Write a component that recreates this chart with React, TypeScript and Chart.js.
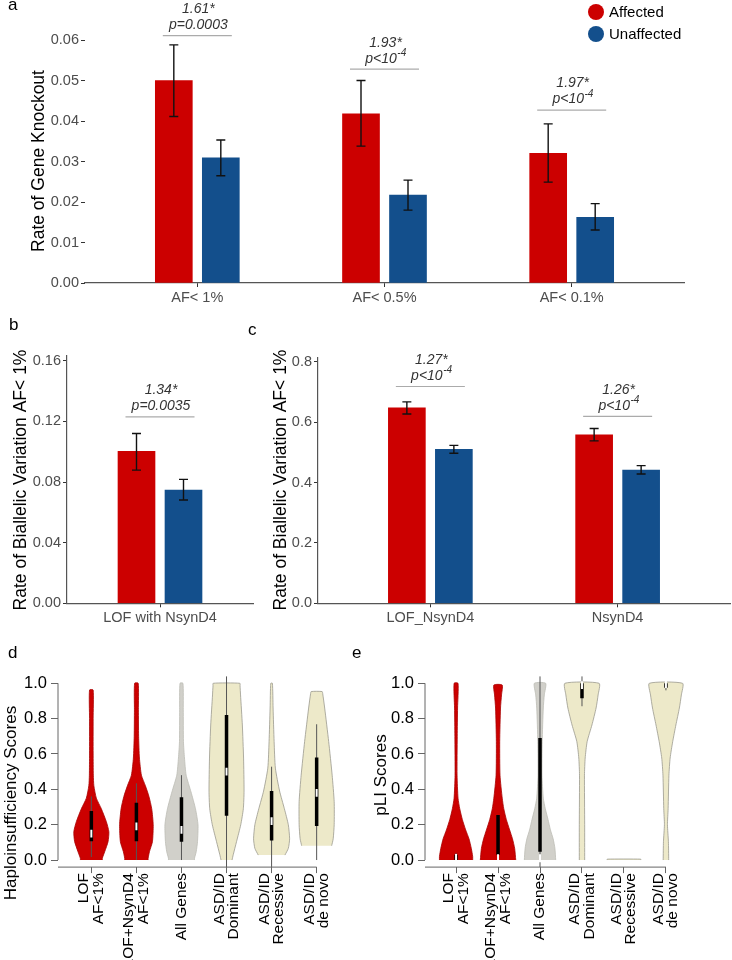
import React, { useEffect, useRef } from "react";
import { Chart, registerables } from "chart.js";

Chart.register(...registerables);

const FONT = '"Liberation Sans", Arial, Helvetica, sans-serif';
Chart.defaults.font.family = FONT;

const RED = "#CC0000";
const BLUE = "#134F8C";
const GREY = "#D1D0CA";
const CREAM = "#EDE9C9";

// ---------- Panel a ----------
const aCategories = ["AF< 1%", "AF< 0.5%", "AF< 0.1%"];
const aAffected = [0.05, 0.0418, 0.032];
const aAffectedLow = [0.0411, 0.0338, 0.0249];
const aAffectedHigh = [0.0588, 0.05, 0.0393];
const aUnaffected = [0.0309, 0.0217, 0.0162];
const aUnaffectedLow = [0.0265, 0.018, 0.0131];
const aUnaffectedHigh = [0.0353, 0.0254, 0.0196];
const aRatios = ["1.61*", "1.93*", "1.97*"];
const aPvalues = ["p=0.0003", "p<10^-4", "p<10^-4"];
const aSigLevels = [0.0611, 0.0528, 0.0427];
const aYTicks = [0, 0.01, 0.02, 0.03, 0.04, 0.05, 0.06];

// ---------- Panel b ----------
const bCategories = ["LOF with NsynD4"];
const bAffected = [0.1002];
const bAffectedLow = [0.0878];
const bAffectedHigh = [0.112];
const bUnaffected = [0.0747];
const bUnaffectedLow = [0.0681];
const bUnaffectedHigh = [0.0817];
const bRatios = ["1.34*"];
const bPvalues = ["p=0.0035"];
const bSigLevels = [0.123];
const bYTicks = [0, 0.04, 0.08, 0.12, 0.16];

// ---------- Panel c ----------
const cCategories = ["LOF_NsynD4", "NsynD4"];
const cAffected = [0.647, 0.558];
const cAffectedLow = [0.627, 0.538];
const cAffectedHigh = [0.667, 0.579];
const cUnaffected = [0.51, 0.441];
const cUnaffectedLow = [0.497, 0.428];
const cUnaffectedHigh = [0.523, 0.456];
const cRatios = ["1.27*", "1.26*"];
const cPvalues = ["p<10^-4", "p<10^-4"];
const cSigLevels = [0.718, 0.619];
const cYTicks = [0, 0.2, 0.4, 0.6, 0.8];

// ---------- Panels d / e (violins) ----------
const vLabels = [
  ["LOF", "AF<1%"],
  ["LOF+NsynD4", "AF<1%"],
  ["All Genes"],
  ["ASD/ID", "Dominant"],
  ["ASD/ID", "Recessive"],
  ["ASD/ID", "de novo"],
];
const vFills = [RED, RED, GREY, CREAM, CREAM, CREAM];
const vBorders = ["#A80000", "#A80000", "#BDBCB5", "#9A998E", "#9A998E", "#9A998E"];
const vYTicks = [0, 0.2, 0.4, 0.6, 0.8, 1.0];

const dLevels = [
  [0, 0.01, 0.047, 0.104, 0.16, 0.217, 0.29, 0.35, 0.42, 0.48, 0.6, 0.8, 0.962],
  [0, 0.01, 0.047, 0.104, 0.2, 0.29, 0.36, 0.42, 0.48, 0.577, 0.7, 0.85, 1.0],
  [0, 0.01, 0.047, 0.104, 0.2, 0.29, 0.386, 0.48, 0.577, 0.67, 0.85, 1.0],
  [0, 0.03, 0.104, 0.2, 0.29, 0.39, 0.577, 0.764, 0.934, 0.985, 1.0],
  [0.028, 0.066, 0.12, 0.2, 0.29, 0.39, 0.52, 0.67, 0.86, 1.0],
  [0.081, 0.12, 0.2, 0.33, 0.48, 0.67, 0.86, 0.94, 0.953],
];
const dHalfWidths = [
  [0.244, 0.244, 0.296, 0.371, 0.389, 0.333, 0.222, 0.111, 0.056, 0.044, 0.04, 0.04, 0.04],
  [0.26, 0.26, 0.289, 0.356, 0.373, 0.34, 0.278, 0.2, 0.111, 0.067, 0.049, 0.044, 0.04],
  [0.289, 0.289, 0.327, 0.356, 0.367, 0.311, 0.211, 0.104, 0.067, 0.044, 0.04, 0.033],
  [0.122, 0.149, 0.222, 0.316, 0.373, 0.389, 0.378, 0.351, 0.311, 0.3, 0.296],
  [0.296, 0.371, 0.4, 0.371, 0.284, 0.178, 0.084, 0.056, 0.033, 0.018],
  [0.333, 0.367, 0.389, 0.389, 0.344, 0.267, 0.178, 0.135, 0.122],
];
const dWhiskerLow = [0.017, 0.0, 0.0, -0.04, -0.04, 0.0];
const dWhiskerHigh = [0.36, 0.434, 0.48, 1.04, 0.528, 0.768];
const dQ1 = [0.106, 0.106, 0.104, 0.25, 0.11, 0.193];
const dQ3 = [0.277, 0.324, 0.355, 0.82, 0.39, 0.58];
const dMedian = [0.15, 0.19, 0.17, 0.5, 0.22, 0.38];

const eLevels = [
  [0, 0.02, 0.066, 0.12, 0.17, 0.23, 0.29, 0.35, 0.48, 0.7, 0.86, 1.0],
  [0, 0.066, 0.12, 0.17, 0.23, 0.29, 0.35, 0.48, 0.67, 0.86, 0.934, 0.99],
  [0, 0.066, 0.12, 0.17, 0.23, 0.29, 0.35, 0.48, 0.67, 0.86, 0.934, 1.0],
  [0, 0.2, 0.48, 0.577, 0.67, 0.764, 0.86, 0.934, 1.0],
  [0, 0.005],
  [0, 0.104, 0.2, 0.29, 0.48, 0.577, 0.67, 0.764, 0.86, 0.934, 1.0],
];
const eHalfWidths = [
  [0.396, 0.396, 0.363, 0.308, 0.23, 0.149, 0.088, 0.047, 0.024, 0.028, 0.036, 0.047],
  [0.422, 0.396, 0.344, 0.277, 0.197, 0.137, 0.1, 0.047, 0.04, 0.059, 0.083, 0.1],
  [0.374, 0.355, 0.313, 0.249, 0.19, 0.126, 0.078, 0.047, 0.052, 0.078, 0.102, 0.135],
  [0.064, 0.064, 0.059, 0.076, 0.123, 0.237, 0.336, 0.384, 0.408],
  [0.4, 0.4],
  [0.066, 0.059, 0.036, 0.052, 0.071, 0.1, 0.161, 0.237, 0.32, 0.367, 0.396],
];
const eWhiskerLow = [0.0, 0.0, -0.04, 0.87, null, 0.96];
const eWhiskerHigh = [0.04, 0.255, 1.04, 1.04, null, 1.0];
const eQ1 = [0.0, 0.03, 0.047, 0.915, null, 0.975];
const eQ3 = [0.03, 0.255, 0.69, 1.0, null, 1.0];
const eMedian = [0.012, 0.01, 0.01, 0.99, null, 0.995];

// ---------- helpers ----------
function drawSup(ctx: CanvasRenderingContext2D, text: string, cx: number, cy: number, size: number) {
  const [base, sup] = text.split("^");
  const supSize = size * 0.72;
  ctx.font = `italic ${size}px ${FONT}`;
  const wb = ctx.measureText(base).width;
  let ws = 0;
  if (sup) {
    ctx.font = `italic ${supSize}px ${FONT}`;
    ws = ctx.measureText(sup).width;
  }
  const x0 = cx - (wb + ws) / 2;
  ctx.textAlign = "left";
  ctx.textBaseline = "middle";
  ctx.font = `italic ${size}px ${FONT}`;
  ctx.fillText(base, x0, cy);
  if (sup) {
    ctx.font = `italic ${supSize}px ${FONT}`;
    ctx.fillText(sup, x0 + wb + 0.5, cy - size * 0.38);
  }
}

function drawRotated(ctx: CanvasRenderingContext2D, text: string, x: number, y: number, font: string) {
  ctx.save();
  ctx.translate(x, y);
  ctx.rotate(-Math.PI / 2);
  ctx.font = font;
  ctx.fillStyle = "#000";
  ctx.textAlign = "center";
  ctx.textBaseline = "middle";
  ctx.fillText(text, 0, 0);
  ctx.restore();
}

function drawLetter(ctx: CanvasRenderingContext2D, letter: string, x: number, y: number) {
  ctx.save();
  ctx.font = `17px ${FONT}`;
  ctx.fillStyle = "#000";
  ctx.textAlign = "left";
  ctx.textBaseline = "alphabetic";
  ctx.fillText(letter, x, y);
  ctx.restore();
}

type Area = { left: number; top: number; right: number; bottom: number };

type BarPanel = {
  categories: string[];
  aff: number[]; affLo: number[]; affHi: number[];
  un: number[]; unLo: number[]; unHi: number[];
  ratios: string[]; pvals: string[]; sig: number[];
  yTicks: number[]; yDecimals: number; yMax: number;
  w: number; h: number; area: Area; yLine: boolean;
  title: string; titleX: number; titleY: number;
  letter: string; letterX: number; letterY: number;
  legend: boolean;
};

function barConfig(p: BarPanel): any {
  const n = p.categories.length;
  const xMin = 0.4;
  const xMax = n + 0.6;
  const dodge = (23.5 * (xMax - xMin)) / (p.area.right - p.area.left);
  const pts = (vals: number[], sign: number) => vals.map((v, i) => ({ x: i + 1 + sign * dodge, y: v }));
  const plugin = {
    id: "barAnnot",
    afterDraw(chart: any) {
      const ctx = chart.ctx as CanvasRenderingContext2D;
      const ys = chart.scales.y;
      const m0 = chart.getDatasetMeta(0);
      const m1 = chart.getDatasetMeta(1);
      ctx.save();
      const sets: any[] = [
        [m0, p.affLo, p.affHi],
        [m1, p.unLo, p.unHi],
      ];
      ctx.strokeStyle = "#111";
      ctx.lineWidth = 1.4;
      for (const [m, lo, hi] of sets) {
        m.data.forEach((el: any, i: number) => {
          const x = el.x;
          const y1 = ys.getPixelForValue(lo[i]);
          const y2 = ys.getPixelForValue(hi[i]);
          ctx.beginPath();
          ctx.moveTo(x, y1);
          ctx.lineTo(x, y2);
          ctx.moveTo(x - 4.5, y1);
          ctx.lineTo(x + 4.5, y1);
          ctx.moveTo(x - 4.5, y2);
          ctx.lineTo(x + 4.5, y2);
          ctx.stroke();
        });
      }
      p.sig.forEach((s, i) => {
        const xl = m0.data[i].x - 11;
        const xr = m1.data[i].x + 11;
        const y = ys.getPixelForValue(s);
        ctx.strokeStyle = "#ABABAB";
        ctx.lineWidth = 1.2;
        ctx.beginPath();
        ctx.moveTo(xl, y);
        ctx.lineTo(xr, y);
        ctx.stroke();
        ctx.fillStyle = "#333";
        drawSup(ctx, p.pvals[i], (xl + xr) / 2 + 1, y - 10.5, 14);
        drawSup(ctx, p.ratios[i], (xl + xr) / 2 + 1, y - 26.5, 14);
      });
      drawRotated(ctx, p.title, p.titleX, p.titleY, `17.5px ${FONT}`);
      drawLetter(ctx, p.letter, p.letterX, p.letterY);
      if (p.legend) {
        const items: [string, string, number][] = [
          ["Affected", RED, 12],
          ["Unaffected", BLUE, 34],
        ];
        for (const [label, color, y] of items) {
          ctx.fillStyle = color;
          ctx.beginPath();
          ctx.arc(596, y, 8, 0, Math.PI * 2);
          ctx.fill();
          ctx.fillStyle = "#000";
          ctx.font = `15px ${FONT}`;
          ctx.textAlign = "left";
          ctx.textBaseline = "middle";
          ctx.fillText(label, 609, y + 0.5);
        }
      }
      ctx.restore();
    },
  };
  return {
    type: "bar",
    data: {
      datasets: [
        { label: "Affected", data: pts(p.aff, -1), backgroundColor: RED, barThickness: 37, grouped: false, borderWidth: 0 },
        { label: "Unaffected", data: pts(p.un, 1), backgroundColor: BLUE, barThickness: 37, grouped: false, borderWidth: 0 },
      ],
    },
    options: {
      responsive: false,
      animation: false,
      events: [],
      layout: { padding: { left: 0, top: p.area.top, right: p.w - p.area.right, bottom: 0 } },
      plugins: { legend: { display: false }, tooltip: { enabled: false } },
      scales: {
        x: {
          type: "linear",
          offset: false,
          min: xMin,
          max: xMax,
          afterBuildTicks: (s: any) => {
            s.ticks = p.categories.map((_, i) => ({ value: i + 1 }));
          },
          afterFit: (s: any) => {
            s.height = p.h - p.area.bottom;
          },
          ticks: {
            callback: (v: any) => p.categories[Math.round(Number(v)) - 1],
            font: { size: 14.5 },
            color: "#4D4D4D",
            padding: 2,
            maxRotation: 0,
            minRotation: 0,
            autoSkip: false,
          },
          grid: { display: true, offset: false, drawOnChartArea: false, drawTicks: true, tickLength: 4, color: "#333", lineWidth: 1 },
          border: { display: true, color: "#555", width: 1.2 },
        },
        y: {
          type: "linear",
          min: 0,
          max: p.yMax,
          afterBuildTicks: (s: any) => {
            s.ticks = p.yTicks.map((v) => ({ value: v }));
          },
          afterFit: (s: any) => {
            s.width = p.area.left;
          },
          ticks: {
            callback: (v: any) => Number(v).toFixed(p.yDecimals),
            font: { size: 14.5 },
            color: "#4D4D4D",
            padding: 2,
          },
          grid: { display: true, drawOnChartArea: false, drawTicks: true, tickLength: 4, color: "#333", lineWidth: 1 },
          border: { display: p.yLine, color: "#555", width: 1.2 },
        },
      },
    },
    plugins: [plugin],
  };
}

type ViolinPanel = {
  levels: number[][]; halfWidths: number[][];
  wLo: (number | null)[]; wHi: (number | null)[];
  q1: (number | null)[]; q3: (number | null)[]; med: (number | null)[];
  w: number; h: number; area: Area;
  title: string; titleX: number; titleY: number;
  letter: string; letterX: number; letterY: number;
};

function violinConfig(p: ViolinPanel): any {
  const datasets: any[] = [];
  p.levels.forEach((lv, i) => {
    const cx = i + 1;
    const hw = p.halfWidths[i];
    const right = lv.map((y, k) => ({ x: cx + hw[k], y }));
    const left = lv.map((y, k) => ({ x: cx - hw[k], y })).reverse();
    datasets.push({
      data: [...right, ...left],
      showLine: true,
      fill: "shape",
      backgroundColor: vFills[i],
      borderColor: vBorders[i],
      borderWidth: 0.8,
      tension: 0.2,
      pointRadius: 0,
      order: 4,
    });
    const lo = p.wLo[i];
    const hi = p.wHi[i];
    if (lo !== null && hi !== null) {
      datasets.push({
        data: [{ x: cx, y: lo }, { x: cx, y: hi }],
        showLine: true, fill: false, borderColor: "#555", borderWidth: 1, pointRadius: 0, order: 3,
      });
    }
    const a = p.q1[i];
    const b = p.q3[i];
    if (a !== null && b !== null) {
      datasets.push({
        data: [{ x: cx, y: a }, { x: cx, y: b }],
        showLine: true, fill: false, borderColor: "#000", borderWidth: 3.5, borderCapStyle: "butt", pointRadius: 0, order: 2,
      });
    }
    const m = p.med[i];
    if (m !== null) {
      datasets.push({
        data: [{ x: cx, y: m - 0.022 }, { x: cx, y: m + 0.022 }],
        showLine: true, fill: false, borderColor: "#fff", borderWidth: 2, borderCapStyle: "butt", pointRadius: 0, order: 1,
      });
    }
  });

  const plugin = {
    id: "violinAnnot",
    afterDraw(chart: any) {
      const ctx = chart.ctx as CanvasRenderingContext2D;
      const xs = chart.scales.x;
      const ys = chart.scales.y;
      const ca = chart.chartArea;
      ctx.save();
      ctx.strokeStyle = "#666";
      ctx.lineWidth = 1;
      ctx.beginPath();
      ctx.moveTo(ca.left, ys.getPixelForValue(0));
      ctx.lineTo(ca.left, ys.getPixelForValue(1));
      ctx.moveTo(ca.left, ca.bottom);
      ctx.lineTo(xs.getPixelForValue(vLabels.length), ca.bottom);
      ctx.stroke();
      const lh = 14.5;
      vLabels.forEach((lines, i) => {
        const x = xs.getPixelForValue(i + 1);
        lines.forEach((line, j) => {
          ctx.save();
          ctx.translate(x + (j - (lines.length - 1) / 2) * lh, ca.bottom + 6);
          ctx.rotate(-Math.PI / 2);
          ctx.font = `15.5px ${FONT}`;
          ctx.fillStyle = "#000";
          ctx.textAlign = "right";
          ctx.textBaseline = "middle";
          ctx.fillText(line, 0, 0);
          ctx.restore();
        });
      });
      drawRotated(ctx, p.title, p.titleX, p.titleY, `17px ${FONT}`);
      drawLetter(ctx, p.letter, p.letterX, p.letterY);
      ctx.restore();
    },
  };

  return {
    type: "scatter",
    data: { datasets },
    options: {
      responsive: false,
      animation: false,
      events: [],
      layout: { padding: { left: 0, top: p.area.top, right: p.w - p.area.right, bottom: 0 } },
      plugins: { legend: { display: false }, tooltip: { enabled: false } },
      elements: { point: { radius: 0 } },
      scales: {
        x: {
          type: "linear",
          min: 0.26,
          max: 6.74,
          afterBuildTicks: (s: any) => {
            s.ticks = vLabels.map((_, i) => ({ value: i + 1 }));
          },
          afterFit: (s: any) => {
            s.height = p.h - p.area.bottom;
          },
          ticks: { display: false },
          grid: { display: true, drawOnChartArea: false, drawTicks: true, tickLength: 6, color: "#666", lineWidth: 1 },
          border: { display: false },
        },
        y: {
          type: "linear",
          min: -0.04,
          max: 1.04,
          afterBuildTicks: (s: any) => {
            s.ticks = vYTicks.map((v) => ({ value: v }));
          },
          afterFit: (s: any) => {
            s.width = p.area.left;
          },
          ticks: {
            callback: (v: any) => Number(v).toFixed(1),
            font: { size: 16.5 },
            color: "#000",
            padding: 4,
          },
          grid: { display: true, drawOnChartArea: false, drawTicks: true, tickLength: 7, color: "#666", lineWidth: 1 },
          border: { display: false },
        },
      },
    },
    plugins: [plugin],
  };
}

const panelA: BarPanel = {
  categories: aCategories,
  aff: aAffected, affLo: aAffectedLow, affHi: aAffectedHigh,
  un: aUnaffected, unLo: aUnaffectedLow, unHi: aUnaffectedHigh,
  ratios: aRatios, pvals: aPvalues, sig: aSigLevels,
  yTicks: aYTicks, yDecimals: 2, yMax: 0.0605,
  w: 732, h: 310, area: { left: 85, top: 38, right: 684, bottom: 283 }, yLine: false,
  title: "Rate of Gene Knockout", titleX: 39, titleY: 161,
  letter: "a", letterX: 8, letterY: 10,
  legend: true,
};

const panelB: BarPanel = {
  categories: bCategories,
  aff: bAffected, affLo: bAffectedLow, affHi: bAffectedHigh,
  un: bUnaffected, unLo: bUnaffectedLow, unHi: bUnaffectedHigh,
  ratios: bRatios, pvals: bPvalues, sig: bSigLevels,
  yTicks: bYTicks, yDecimals: 2, yMax: 0.1631,
  w: 256, h: 320, area: { left: 67, top: 46, right: 253, bottom: 293.3 }, yLine: true,
  title: "Rate of Biallelic Variation AF< 1%", titleX: 21, titleY: 170,
  letter: "b", letterX: 9, letterY: 20,
  legend: false,
};

const panelC: BarPanel = {
  categories: cCategories,
  aff: cAffected, affLo: cAffectedLow, affHi: cAffectedHigh,
  un: cUnaffected, unLo: cUnaffectedLow, unHi: cUnaffectedHigh,
  ratios: cRatios, pvals: cPvalues, sig: cSigLevels,
  yTicks: cYTicks, yDecimals: 1, yMax: 0.8123,
  w: 492, h: 320, area: { left: 78, top: 48, right: 490, bottom: 293.3 }, yLine: true,
  title: "Rate of Biallelic Variation AF< 1%", titleX: 41.5, titleY: 170,
  letter: "c", letterX: 8, letterY: 25,
  legend: false,
};

const panelD: ViolinPanel = {
  levels: dLevels, halfWidths: dHalfWidths,
  wLo: dWhiskerLow, wHi: dWhiskerHigh, q1: dQ1, q3: dQ3, med: dMedian,
  w: 366, h: 320, area: { left: 58, top: 36.2, right: 350, bottom: 227.1 },
  title: "Haploinsufficiency Scores", titleX: 11, titleY: 163,
  letter: "d", letterX: 8, letterY: 18,
};

const panelE: ViolinPanel = {
  levels: eLevels, halfWidths: eHalfWidths,
  wLo: eWhiskerLow, wHi: eWhiskerHigh, q1: eQ1, q3: eQ3, med: eMedian,
  w: 392, h: 320, area: { left: 85, top: 36.2, right: 357, bottom: 227.1 },
  title: "pLI Scores", titleX: 41.5, titleY: 135,
  letter: "e", letterX: 12, letterY: 18,
};

function ChartCanvas(props: { make: () => any; left: number; top: number; width: number; height: number }) {
  const ref = useRef<HTMLCanvasElement>(null);
  useEffect(() => {
    const chart = new Chart(ref.current as HTMLCanvasElement, props.make());
    return () => chart.destroy();
  }, []);
  return (
    <canvas
      ref={ref}
      width={props.width}
      height={props.height}
      style={{ position: "absolute", left: props.left, top: props.top, width: props.width, height: props.height }}
    />
  );
}

export default function App() {
  return (
    <div style={{ position: "absolute", left: 0, top: 0, width: 732, height: 960, background: "#fff", overflow: "hidden" }}>
      <ChartCanvas make={() => barConfig(panelA)} left={0} top={0} width={732} height={310} />
      <ChartCanvas make={() => barConfig(panelB)} left={0} top={310} width={256} height={320} />
      <ChartCanvas make={() => barConfig(panelC)} left={240} top={310} width={492} height={320} />
      <ChartCanvas make={() => violinConfig(panelD)} left={0} top={640} width={366} height={320} />
      <ChartCanvas make={() => violinConfig(panelE)} left={340} top={640} width={392} height={320} />
    </div>
  );
}
